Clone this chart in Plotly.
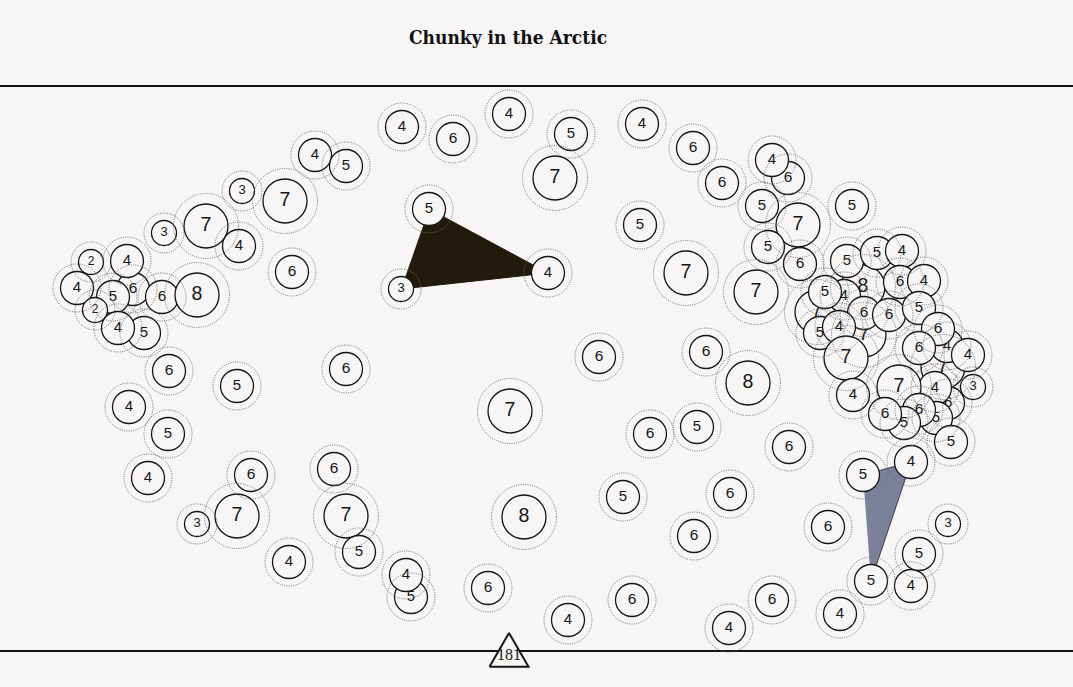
"""Chunky in the Arctic - board of numbered rings with two filled patches."""

import math

import plotly.graph_objects as go

# ---- data ---------------------------------------------------------------
# value printed in each ring, and its board position (board units = px)
# first six nodes are the corners of the two patches; the next block sits
# underneath its neighbours, so it is drawn first.
NODE_VALUE = [
    5, 4, 3, 5, 4, 5,
    8, 7, 5, 7, 7, 4, 6, 6, 6, 5, 5, 5, 4,
    4, 6, 4, 5, 7, 4, 6, 6, 4, 5, 7, 5, 5, 6, 5, 7, 7, 4, 5, 3, 7, 7, 3, 4, 6,
    2, 4, 4, 6, 8, 2, 4,
    6, 5, 6, 4, 5, 4, 6, 6, 3, 7, 7, 5, 4, 4,
    6, 4, 6, 4, 6, 4,
    7, 8, 6, 6, 8, 6, 5, 6, 5, 6, 6, 6,
    4, 5, 3,
    5, 5, 4, 6, 4, 5, 6, 6, 5, 6, 4, 7, 6, 4, 3, 4, 7, 4,
    5, 6, 5, 6, 5,
]
NODE_X = [
    429, 548, 401, 863, 911, 871,
    863, 817, 820, 864, 943, 947, 948, 788, 133, 113, 144, 411, 844,
    402, 453, 509, 571, 555, 642, 693, 722, 772, 762, 798, 852, 768, 800, 640,
    686, 756, 315, 346, 242, 285, 206, 164, 239, 292,
    91, 127, 77, 162, 197, 95, 118,
    169, 237, 346, 129, 168, 148, 251, 334, 197, 237, 346, 359, 289, 406,
    488, 568, 632, 729, 772, 840,
    510, 524, 599, 706, 748, 650, 697, 789, 623, 730, 694, 828,
    911, 919, 948,
    847, 877, 902, 900, 924, 825, 864, 889, 919, 938, 839, 846, 919, 968, 973,
    935, 899, 853,
    936, 919, 904, 885, 951,
]
NODE_Y = [
    209, 273, 289, 475, 462, 581,
    287, 312, 333, 335, 367, 346, 403, 178, 289, 297, 333, 597, 296,
    127, 139, 114, 134, 178, 124, 148, 183, 160, 206, 225, 206, 247, 264, 225,
    273, 292, 155, 166, 191, 201, 226, 233, 246, 272,
    262, 261, 288, 297, 295, 310, 328,
    371, 386, 369, 407, 434, 478, 475, 469, 524, 516, 516, 552, 562, 575,
    588, 620, 600, 628, 600, 614,
    411, 517, 357, 352, 383, 434, 427, 447, 497, 494, 536, 527,
    586, 554, 524,
    261, 253, 251, 282, 281, 292, 313, 315, 308, 329, 327, 358, 348, 355, 387,
    388, 387, 395,
    418, 410, 423, 414, 442,
]

DARK_PATCH = [0, 1, 2]
SLATE_PATCH = [3, 4, 5]

MARKER_LABEL = "181"
MARKER_X = 509
MARKER_Y = 655.5

# ---- style --------------------------------------------------------------

BG = "#f7f5f6"
INK = "#151515"
INNER_R = {2: 12.5, 3: 12.5, 4: 16.5, 5: 16.5, 6: 16.5, 7: 22, 8: 22}
OUTER_R = {2: 20, 3: 20, 4: 24, 5: 24, 6: 24, 7: 32.5, 8: 32.5}
FONT_SIZE = {2: 12, 3: 13, 4: 15, 5: 15, 6: 15.5, 7: 19.5, 8: 19.5}
RULE_TOP, RULE_BOTTOM = 86, 651
TRI_SIDE = 39

fig = go.Figure()

for patch, fill, edge in [(DARK_PATCH, "#221a0a", "#221a0a"),
                          (SLATE_PATCH, "#7a8199", "#3a3d48")]:
    fig.add_trace(go.Scatter(
        x=[NODE_X[i] for i in patch], y=[NODE_Y[i] for i in patch],
        mode="lines", fill="toself", fillcolor=fill,
        line=dict(color=edge, width=1), hoverinfo="skip",
    ))

# one trace per node so later rings cover earlier ones (labels included)
for v, x, y in zip(NODE_VALUE, NODE_X, NODE_Y):
    fig.add_trace(go.Scatter(
        x=[x], y=[y], mode="markers+text", text=[str(v)],
        textposition="middle center", cliponaxis=False, hoverinfo="skip",
        marker=dict(size=2 * INNER_R[v], color=BG,
                    line=dict(color=INK, width=1.3)),
        textfont=dict(family="Liberation Sans, Arial", size=FONT_SIZE[v], color=INK),
    ))
    R = OUTER_R[v]
    fig.add_shape(type="circle", xref="x", yref="y",
                  x0=x - R, x1=x + R, y0=y - R, y1=y + R,
                  line=dict(color="#6e6e6e", width=1, dash="1px,1.3px"),
                  layer="above")

# the two horizontal rules framing the board
for yr in (RULE_TOP, RULE_BOTTOM):
    fig.add_shape(type="line", xref="paper", yref="y", x0=0, x1=1, y0=yr, y1=yr,
                  line=dict(color="#111", width=2), layer="below")

# equilateral counter sitting on the bottom rule (y grows downward)
h = TRI_SIDE * math.sqrt(3) / 2
tri_x = [MARKER_X - TRI_SIDE / 2, MARKER_X, MARKER_X + TRI_SIDE / 2, MARKER_X - TRI_SIDE / 2]
tri_y = [MARKER_Y + h / 3, MARKER_Y - 2 * h / 3, MARKER_Y + h / 3, MARKER_Y + h / 3]
fig.add_trace(go.Scatter(
    x=tri_x, y=tri_y, mode="lines", fill="toself", fillcolor=BG,
    line=dict(color=INK, width=2), hoverinfo="skip",
))
fig.add_trace(go.Scatter(
    x=[MARKER_X], y=[MARKER_Y], mode="text", text=[MARKER_LABEL],
    textposition="middle center", hoverinfo="skip",
    textfont=dict(family="Liberation Serif, Times New Roman", size=16, color=INK),
))

fig.update_layout(
    width=1073, height=687,
    margin=dict(l=0, r=0, t=RULE_TOP - 6, b=0, pad=0),
    paper_bgcolor=BG, plot_bgcolor=BG,
    showlegend=False, hovermode=False,
    title=dict(text="Chunky in the Arctic", x=508 / 1073, xanchor="center",
               y=1 - 37 / 687, yanchor="middle",
               font=dict(family="DejaVu Serif Condensed", size=19,
                         weight="bold", color="#111")),
    xaxis=dict(range=[0, 1073], visible=False, fixedrange=True),
    yaxis=dict(range=[687, RULE_TOP - 6], visible=False, fixedrange=True),
)

fig.write_html("out.html", config={"displayModeBar": False},
               post_script="document.body.style.margin='0px';")
